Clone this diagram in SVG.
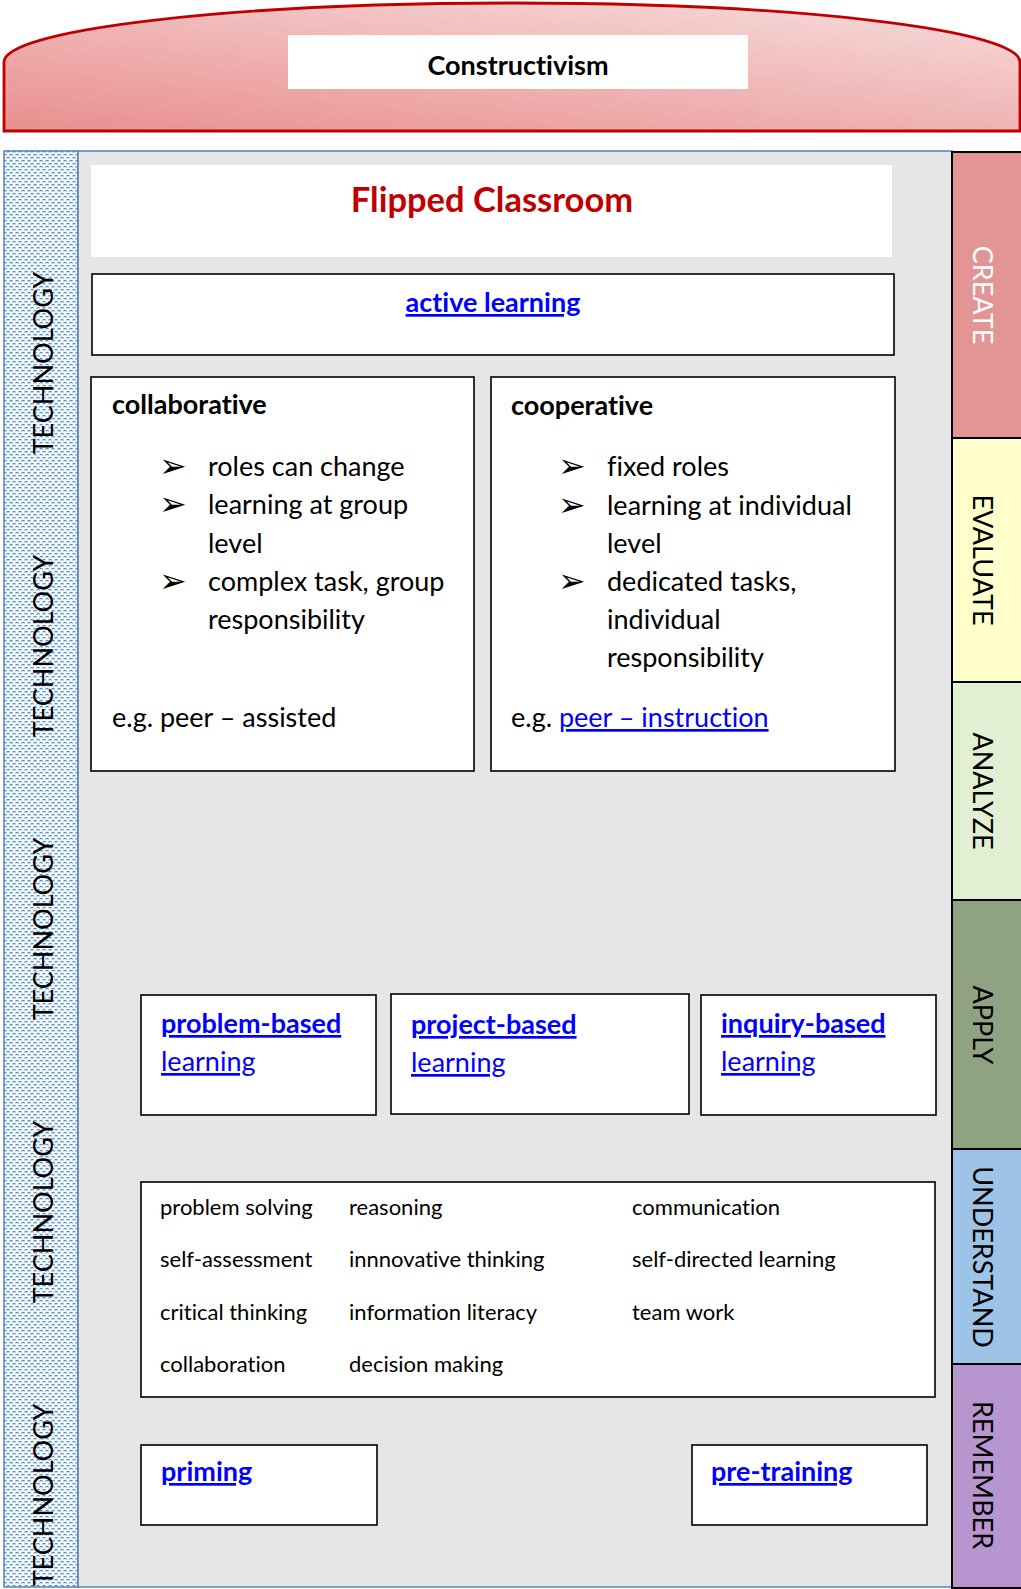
<svg xmlns="http://www.w3.org/2000/svg" width="1021" height="1589" viewBox="0 0 1021 1589">
<defs>
  <linearGradient id="archGrad" x1="0" y1="1" x2="0.85" y2="0">
    <stop offset="0" stop-color="#E98E8E"/>
    <stop offset="1" stop-color="#F6D8D8"/>
  </linearGradient>
  <pattern id="techPat" width="6" height="6" patternUnits="userSpaceOnUse">
    <rect width="6" height="6" fill="#FFFFFF"/>
    <path d="M0.8,2.6 A1.3,1.3 0 1 1 3.4,2.6" fill="none" stroke="#4A8FD6" stroke-width="1.2"/>
    <path d="M3.8,5.6 A1.3,1.3 0 1 1 6.4,5.6" fill="none" stroke="#4A8FD6" stroke-width="1.2"/>
    <path d="M-2.2,5.6 A1.3,1.3 0 1 1 0.4,5.6" fill="none" stroke="#4A8FD6" stroke-width="1.2"/>
  </pattern>
</defs>
<style>
  text { font-variant-ligatures: none; font-feature-settings: "liga" 0, "clig" 0; }
  .box { fill: #FFFFFF; stroke: #000000; stroke-width: 1.6; }
  .t { font-family: Lato, "Liberation Sans", sans-serif; fill: #000000; }
  .b { font-weight: bold; }
  .body { font-size: 27px; }
  .link { fill: #0000FF; text-decoration: underline; }
  .skill { font-family: Lato, "Liberation Sans", sans-serif; font-size: 22px; fill: #000000; }
  .bul { font-family: "DejaVu Sans", sans-serif; font-size: 33px; fill: #000000; }
  .vert { font-family: Lato, "Liberation Sans", sans-serif; font-size: 27px; font-weight: 400; text-anchor: middle; }
  .bloom { stroke: #000000; stroke-width: 2; }
</style>

<g id="constructivism">
  <path d="M4,131 L4,62 A508,59 0 0 1 1020,62 L1020,131 Z" fill="url(#archGrad)" stroke="#C00000" stroke-width="2.8"/>
  <rect x="288" y="35" width="460" height="54" fill="#FFFFFF"/>
  <text class="t b" x="518" y="75" font-size="27" text-anchor="middle">Constructivism</text>
</g>

<g id="technology">
  <rect x="4" y="151" width="74" height="1436" fill="url(#techPat)" stroke="#4F81BD" stroke-width="1.5"/>
  <text class="vert" transform="translate(53,363) rotate(-90)">TECHNOLOGY</text>
  <text class="vert" transform="translate(53,646) rotate(-90)">TECHNOLOGY</text>
  <text class="vert" transform="translate(53,929) rotate(-90)">TECHNOLOGY</text>
  <text class="vert" transform="translate(53,1212) rotate(-90)">TECHNOLOGY</text>
  <text class="vert" transform="translate(53,1495) rotate(-90)">TECHNOLOGY</text>
</g>

<g id="main-area">
  <rect x="78" y="151" width="874" height="1436" fill="#E6E6E6" stroke="#4F81BD" stroke-width="1.5"/>
</g>

<g id="bloom-create">
  <rect class="bloom" x="952" y="152" width="80" height="286" fill="#E39494"/>
  <text class="vert" fill="#FFFFFF" transform="translate(973,295) rotate(90)">CREATE</text>
</g>
<g id="bloom-evaluate">
  <rect class="bloom" x="952" y="438" width="80" height="244" fill="#FFFFCC"/>
  <text class="vert" fill="#000000" transform="translate(973,560) rotate(90)">EVALUATE</text>
</g>
<g id="bloom-analyze">
  <rect class="bloom" x="952" y="682" width="80" height="218" fill="#E1F0D3"/>
  <text class="vert" fill="#000000" transform="translate(973,791) rotate(90)">ANALYZE</text>
</g>
<g id="bloom-apply">
  <rect class="bloom" x="952" y="900" width="80" height="249" fill="#8FA383"/>
  <text class="vert" fill="#000000" transform="translate(973,1025) rotate(90)">APPLY</text>
</g>
<g id="bloom-understand">
  <rect class="bloom" x="952" y="1149" width="80" height="215" fill="#9DC3E6"/>
  <text class="vert" fill="#000000" transform="translate(973,1257) rotate(90)">UNDERSTAND</text>
</g>
<g id="bloom-remember">
  <rect class="bloom" x="952" y="1364" width="80" height="224" fill="#B796D0"/>
  <text class="vert" fill="#000000" transform="translate(973,1475) rotate(90)">REMEMBER</text>
</g>

<g id="flipped-classroom">
  <rect x="91" y="165" width="801" height="92" fill="#FFFFFF"/>
  <text class="t b" x="492" y="212" font-size="34.5" style="fill:#C00000" text-anchor="middle">Flipped Classroom</text>
</g>

<g id="active-learning">
  <rect class="box" x="92" y="274" width="802" height="81"/>
  <text class="t b body link" x="493" y="312" text-anchor="middle">active learning</text>
</g>

<g id="collaborative">
  <rect class="box" x="91" y="377" width="383" height="394"/>
  <text class="t b body" x="112" y="414">collaborative</text>
  <text class="bul" x="159" y="477">➢</text>
  <text class="bul" x="159" y="515">➢</text>
  <text class="bul" x="159" y="592">➢</text>
  <text class="t body" x="208" y="476">roles can change</text>
  <text class="t body" x="208" y="514">learning at group</text>
  <text class="t body" x="208" y="553">level</text>
  <text class="t body" x="208" y="591">complex task, group</text>
  <text class="t body" x="208" y="629">responsibility</text>
  <text class="t body" x="112" y="727">e.g. peer – assisted</text>
</g>

<g id="cooperative">
  <rect class="box" x="491" y="377" width="404" height="394"/>
  <text class="t b body" x="511" y="415">cooperative</text>
  <text class="bul" x="558" y="477">➢</text>
  <text class="bul" x="558" y="516">➢</text>
  <text class="bul" x="558" y="592">➢</text>
  <text class="t body" x="607" y="476">fixed roles</text>
  <text class="t body" x="607" y="515">learning at individual</text>
  <text class="t body" x="607" y="553">level</text>
  <text class="t body" x="607" y="591">dedicated tasks,</text>
  <text class="t body" x="607" y="629">individual</text>
  <text class="t body" x="607" y="667">responsibility</text>
  <text class="t body" x="511" y="727">e.g. <tspan class="link">peer – instruction</tspan></text>
</g>

<g id="problem-based">
  <rect class="box" x="141" y="995" width="235" height="120"/>
  <text class="t b body link" x="161" y="1033">problem-based</text>
  <text class="t body link" x="161" y="1071">learning</text>
</g>
<g id="project-based">
  <rect class="box" x="391" y="994" width="298" height="120"/>
  <text class="t b body link" x="411" y="1034">project-based</text>
  <text class="t body link" x="411" y="1072">learning</text>
</g>
<g id="inquiry-based">
  <rect class="box" x="701" y="995" width="235" height="120"/>
  <text class="t b body link" x="721" y="1033">inquiry-based</text>
  <text class="t body link" x="721" y="1071">learning</text>
</g>

<g id="skills">
  <rect class="box" x="141" y="1182" width="794" height="215"/>
  <text class="skill" x="160" y="1215">problem solving</text>
  <text class="skill" x="349" y="1215">reasoning</text>
  <text class="skill" x="632" y="1215">communication</text>
  <text class="skill" x="160" y="1267">self-assessment</text>
  <text class="skill" x="349" y="1267">innnovative thinking</text>
  <text class="skill" x="632" y="1267">self-directed learning</text>
  <text class="skill" x="160" y="1320">critical thinking</text>
  <text class="skill" x="349" y="1320">information literacy</text>
  <text class="skill" x="632" y="1320">team work</text>
  <text class="skill" x="160" y="1372">collaboration</text>
  <text class="skill" x="349" y="1372">decision making</text>
</g>

<g id="priming">
  <rect class="box" x="141" y="1445" width="236" height="80"/>
  <text class="t b body link" x="161" y="1481">priming</text>
</g>
<g id="pre-training">
  <rect class="box" x="692" y="1445" width="235" height="80"/>
  <text class="t b body link" x="711" y="1481">pre-training</text>
</g>

<g id="connectors"></g>
</svg>
